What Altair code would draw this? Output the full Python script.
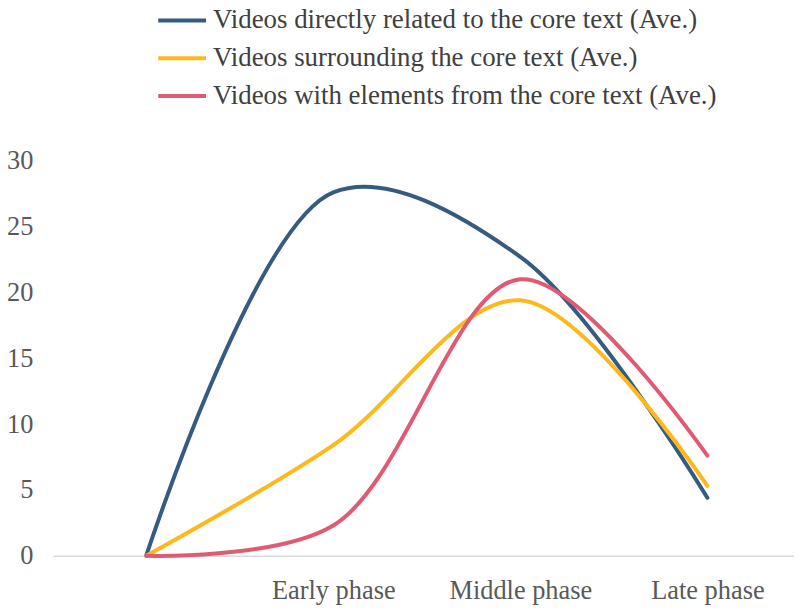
import altair as alt
import pandas as pd

phases = ["Start", "Early phase", "Middle phase", "Late phase"]
series_names = [
    "Videos directly related to the core text (Ave.)",
    "Videos surrounding the core text (Ave.)",
    "Videos with elements from the core text (Ave.)",
]
direct = [0, 27.6, 22.7, 4.4]
surrounding = [0, 8.4, 19.4, 5.3]
elements = [0, 2.3, 21.0, 7.6]
colors = ["#355b80", "#ffb81c", "#e05a73"]

rows = []
for name, vals in zip(series_names, [direct, surrounding, elements]):
    for p, v in zip(phases, vals):
        rows.append({"phase": p, "series": name, "value": v})
df = pd.DataFrame(rows)

FONT = "Liberation Serif"

chart = alt.Chart(df).mark_line(
    interpolate="catmull-rom", strokeWidth=4, strokeCap="round"
).encode(
    x=alt.X(
        "phase:N",
        sort=phases,
        scale=alt.Scale(type="point", padding=0.4814, align=0.519),
        axis=alt.Axis(
            title=None,
            labelExpr="datum.value == 'Start' ? '' : datum.value",
            labelAngle=0,
            labelFont=FONT,
            labelFontSize=26.5,
            labelColor="#595959",
            labelPadding=22,
            ticks=False,
            domainColor="#d9d9d9",
            domainWidth=1.5,
            grid=False,
        ),
    ),
    y=alt.Y(
        "value:Q",
        scale=alt.Scale(domain=[0, 30], nice=False),
        axis=alt.Axis(
            title=None,
            values=[0, 5, 10, 15, 20, 25, 30],
            labelFont=FONT,
            labelFontSize=26.5,
            labelColor="#595959",
            labelPadding=20,
            ticks=False,
            domain=False,
            grid=False,
        ),
    ),
    color=alt.Color(
        "series:N",
        sort=series_names,
        scale=alt.Scale(domain=series_names, range=colors),
        legend=alt.Legend(
            title=None,
            orient="none",
            legendX=115,
            legendY=-156,
            direction="vertical",
            symbolType="M-1.846,0H1.846",
            symbolSize=676,
            symbolStrokeWidth=4,
            labelFont=FONT,
            labelFontSize=27,
            labelColor="#404040",
            labelOffset=16,
            rowPadding=10,
            labelLimit=0,
        ),
    ),
    detail="series:N",
).properties(
    width=745,
    height=397,
    autosize=alt.AutoSizeParams(type="none"),
    padding={"left": 45, "top": 152, "right": 0, "bottom": 50},
).configure_view(stroke=None)

chart.save("out.html", embed_options={"renderer": "svg", "actions": False})
